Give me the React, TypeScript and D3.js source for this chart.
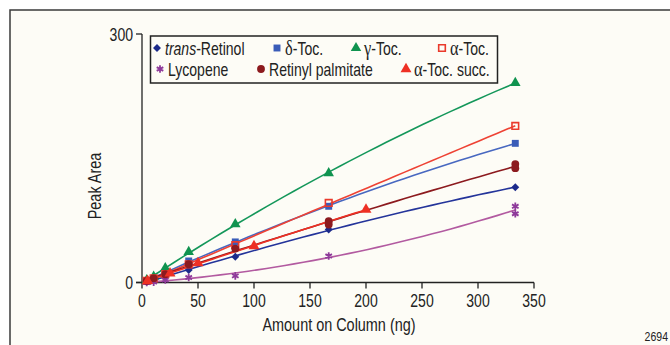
import React from 'react';
import * as d3 from 'd3';

// amounts on column (ng)
const amounts = [4.2, 10.4, 20.8, 41.7, 83.3, 166.7, 333.3];
const succAmounts = [5, 25, 50, 100, 200];

// peak areas
const transRetinol = [1, 3, 7, 15, 31, 64, 115];
const deltaToc = [2, 5, 12, 26, 49, 92, 168];
const gammaToc = [3, 7, 17.5, 37, 70.5, 132, 241];
const alphaToc = [2, 5, 10, 22, 45, 96, 189];
const lycopene = [0, 0.5, 3, 6, 8, 32, 92];
const lycopeneRep = [null, null, null, null, null, null, 83];
const retinylPalm = [2, 5, 10, 22, 41, 74, 143];
const retinylPalmRep = [null, null, null, null, null, 70, 138];
const alphaTocSucc = [2, 11, 23.5, 44, 88];

const yTicks = [0, 300];
const xTicks = [0, 50, 100, 150, 200, 250, 300, 350];

const FONT = "'Liberation Sans', Arial, sans-serif";
const GREEK = "'Liberation Serif', 'DejaVu Serif', serif";
const SQ = 0.78; // horizontal squeeze to mimic a condensed face

type Series = {
  name: string;
  greek?: string;
  italic?: string;
  xs: number[];
  ys: number[];
  rep?: (number | null)[];
  color: string;
  line: string;
  symbol: d3.SymbolType;
  size: number;
  open?: boolean;
  stroke?: boolean;
};

const series: Series[] = [
  { name: '-Retinol', italic: 'trans', xs: amounts, ys: transRetinol, color: '#1c2a8a', line: '#24349a', symbol: d3.symbolDiamond2, size: 40 },
  { name: '-Toc.', greek: 'δ', xs: amounts, ys: deltaToc, color: '#3a5cb8', line: '#4868c0', symbol: d3.symbolSquare, size: 48 },
  { name: '-Toc.', greek: 'γ', xs: amounts, ys: gammaToc, color: '#10934f', line: '#14975a', symbol: d3.symbolTriangle, size: 48 },
  { name: '-Toc.', greek: 'α', xs: amounts, ys: alphaToc, color: '#ea3a2c', line: '#ee4234', symbol: d3.symbolSquare, size: 44, open: true },
  { name: 'Lycopene', xs: amounts, ys: lycopene, rep: lycopeneRep, color: '#8e3a9a', line: '#b25aa0', symbol: d3.symbolAsterisk, size: 40, stroke: true },
  { name: 'Retinyl palmitate', xs: amounts, ys: retinylPalm, rep: retinylPalmRep, color: '#8c1a1e', line: '#8c1a1e', symbol: d3.symbolCircle, size: 48 },
  { name: '-Toc. succ.', greek: 'α', xs: succAmounts, ys: alphaTocSucc, color: '#ee3024', line: '#ee3024', symbol: d3.symbolTriangle, size: 52 },
];

// least squares quadratic for the calibration curve
function quadFit(pts: [number, number][]) {
  let s0 = 0, s1 = 0, s2 = 0, s3 = 0, s4 = 0, t0 = 0, t1 = 0, t2 = 0;
  pts.forEach(([x, y]) => {
    s0 += 1; s1 += x; s2 += x * x; s3 += x ** 3; s4 += x ** 4;
    t0 += y; t1 += x * y; t2 += x * x * y;
  });
  const m = [[s0, s1, s2, t0], [s1, s2, s3, t1], [s2, s3, s4, t2]];
  for (let i = 0; i < 3; i++) {
    for (let k = i + 1; k < 3; k++) {
      const f = m[k][i] / m[i][i];
      for (let j = i; j < 4; j++) m[k][j] -= f * m[i][j];
    }
  }
  const c = [0, 0, 0];
  for (let i = 2; i >= 0; i--) {
    let v = m[i][3];
    for (let j = i + 1; j < 3; j++) v -= m[i][j] * c[j];
    c[i] = v / m[i][i];
  }
  return (x: number) => c[0] + c[1] * x + c[2] * x * x;
}

function Marker({ s, x, y }: { s: Series; x: number; y: number }) {
  const d = d3.symbol(s.symbol, s.size)() as string;
  return (
    <path
      d={d}
      transform={`translate(${x},${y})`}
      fill={s.open || s.stroke ? 'none' : s.color}
      stroke={s.open || s.stroke ? s.color : 'none'}
      strokeWidth={s.stroke ? 1.8 : 1.6}
    />
  );
}

// condensed text: squeezed horizontally around its anchor point
function CText({ x, y, size, anchor = 'start', rotate = 0, children }: any) {
  return (
    <text
      transform={`translate(${x},${y}) rotate(${rotate}) scale(${SQ},1)`}
      textAnchor={anchor}
      fontSize={size}
      fill="#222"
    >
      {children}
    </text>
  );
}

function Label({ s }: { s: Series }) {
  return (
    <>
      {s.italic && <tspan fontStyle="italic">{s.italic}</tspan>}
      {s.greek && <tspan fontFamily={GREEK} fontSize={21}>{s.greek}</tspan>}
      {s.name}
    </>
  );
}

export default function App() {
  const W = 670, H = 345;
  const x = d3.scaleLinear().domain([0, 350]).range([142, 534]);
  const y = d3.scaleLinear().domain([0, 300]).range([282.5, 34]);

  const line = d3.line<[number, number]>().x(d => x(d[0])).y(d => y(d[1]));

  const legendPos = [
    { x: 157, y: 48 }, { x: 277, y: 48 }, { x: 356, y: 48 }, { x: 442, y: 48 },
    { x: 160, y: 69 }, { x: 261, y: 69 }, { x: 406, y: 69 },
  ];

  return (
    <svg width={W} height={H} style={{ position: 'absolute', left: 0, top: 0, fontFamily: FONT }}>
      <rect x={0} y={0} width={W} height={H} fill="#ffffff" />
      <rect x={10} y={10} width={W + 10} height={H + 10} fill="#fdfcf6" stroke="#3a3a3a" strokeWidth={1.5} />

      {/* axes */}
      <line x1={x(0)} x2={x(0)} y1={y(300)} y2={y(0)} stroke="#222" strokeWidth={1.3} />
      <line x1={x(0) - 6} x2={x(350)} y1={y(0)} y2={y(0)} stroke="#222" strokeWidth={1.3} />
      {yTicks.map(t => (
        <g key={t}>
          <line x1={x(0) - 6} x2={x(0)} y1={y(t)} y2={y(t)} stroke="#222" strokeWidth={1.3} />
          <CText x={x(0) - 9} y={y(t) + 6.5} size={18} anchor="end">{t}</CText>
        </g>
      ))}
      {xTicks.map(t => (
        <g key={t}>
          <line x1={x(t)} x2={x(t)} y1={y(0)} y2={y(0) + 6} stroke="#222" strokeWidth={1.3} />
          <CText x={x(t)} y={y(0) + 24} size={18} anchor="middle">{t}</CText>
        </g>
      ))}
      <CText x={339} y={331} size={18.5} anchor="middle">Amount on Column (ng)</CText>
      <CText x={101} y={186} size={18.5} anchor="middle" rotate={-90}>Peak Area</CText>
      <CText x={668} y={341} size={13.5} anchor="end">2694</CText>

      {/* fitted curves */}
      {series.map((s, i) => {
        const pts: [number, number][] = s.xs.map((v, j) => [v, s.ys[j]] as [number, number]);
        (s.rep || []).forEach((r, j) => { if (r != null) pts.push([s.xs[j], r]); });
        const f = quadFit(pts);
        const lo = d3.min(s.xs) as number, hi = d3.max(s.xs) as number;
        const curve: [number, number][] = d3.range(0, 41).map(k => {
          const xv = lo + (hi - lo) * k / 40;
          return [xv, f(xv)];
        });
        return <path key={'l' + i} d={line(curve) as string} fill="none" stroke={s.line} strokeWidth={1.6} />;
      })}

      {/* markers */}
      {series.map((s, i) => (
        <g key={'m' + i}>
          {s.xs.map((v, j) => <Marker key={j} s={s} x={x(v)} y={y(s.ys[j])} />)}
          {(s.rep || []).map((r, j) => r == null ? null : <Marker key={'r' + j} s={s} x={x(s.xs[j])} y={y(r)} />)}
        </g>
      ))}

      {/* legend */}
      <rect x={150.5} y={36} width={347} height={47} fill="#fdfcf6" stroke="#222" strokeWidth={1.5} />
      {series.map((s, i) => (
        <g key={'g' + i}>
          <Marker s={s} x={legendPos[i].x} y={legendPos[i].y} />
          <CText x={legendPos[i].x + 8} y={legendPos[i].y + 7} size={18}><Label s={s} /></CText>
        </g>
      ))}
    </svg>
  );
}
